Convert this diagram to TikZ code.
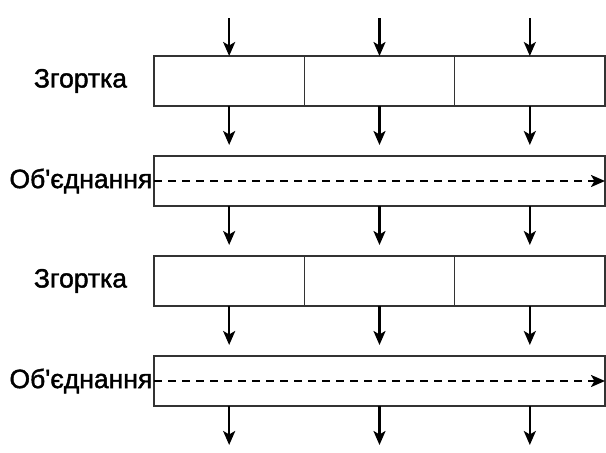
\documentclass[tikz,border=0pt]{standalone}
\usepackage{fontspec}
\newfontfamily\labfont[FakeBold=1.6]{Liberation Sans}
\usetikzlibrary{arrows.meta}
\definecolor{boxline}{HTML}{333333}
\begin{document}
\begin{tikzpicture}[x=1pt,y=-1pt,
  cell/.style={draw=boxline, line width=1.6pt, fill=white,
    minimum width=150.33pt, minimum height=50pt, inner sep=0pt, outer sep=0pt},
  wide/.style={cell, minimum width=451pt},
  tip/.style={-{Stealth[length=14pt,width=12pt,inset=3.5pt]}},
  flow/.style={tip, line width=2.4pt},
  merge/.style={tip, line width=2.4pt, dash pattern=on 8pt off 6pt},
  lbl/.style={font=\labfont\fontsize{26.5}{31}\selectfont, inner sep=0pt}
]
\useasboundingbox (0,0) rectangle (606,453);

% convolution rows (three cells each)
\node[cell] (a1) at (229.17,81) {};
\node[cell] (a2) at (379.50,81) {};
\node[cell] (a3) at (529.83,81) {};
\node[cell] (b1) at (229.17,281) {};
\node[cell] (b2) at (379.50,281) {};
\node[cell] (b3) at (529.83,281) {};

% pooling rows (one wide box)
\node[wide] (m1) at (379.5,181) {};
\node[wide] (m2) at (379.5,381) {};

% row labels
\node[lbl] (za) at (80.5,81) {Згортка};
\node[lbl] (zb) at (80.5,281) {Згортка};
\node[lbl, anchor=east] (oa) at (152.5,181) {Об'єднання};
\node[lbl, anchor=east] (ob) at (152.5,381) {Об'єднання};

% inputs
\coordinate (in1) at (229.17,18);
\coordinate (in2) at (379.50,18);
\coordinate (in3) at (529.83,18);
\draw[flow] (in1) -- (a1.north);
\draw[flow] (in2) -- (a2.north);
\draw[flow] (in3) -- (a3.north);

% convolution -> pooling
\foreach \c in {1,2,3} {
  \draw[flow, shorten >=11pt] (a\c.south) -- (a\c.south |- m1.north);
  \draw[flow, shorten >=11pt] (b\c.south) -- (b\c.south |- m2.north);
}

% pooling -> convolution
\foreach \c in {1,2,3}
  \draw[flow, shorten >=11pt] (b\c.north |- m1.south) -- (b\c.north);

% outputs
\coordinate (out1) at (229.17,445);
\coordinate (out2) at (379.50,445);
\coordinate (out3) at (529.83,445);
\draw[flow] (b1.south |- m2.south) -- (out1);
\draw[flow] (b2.south |- m2.south) -- (out2);
\draw[flow] (b3.south |- m2.south) -- (out3);

% pooling sweep
\draw[merge] (m1.west) -- (m1.east);
\draw[merge] (m2.west) -- (m2.east);
\end{tikzpicture}
\end{document}
